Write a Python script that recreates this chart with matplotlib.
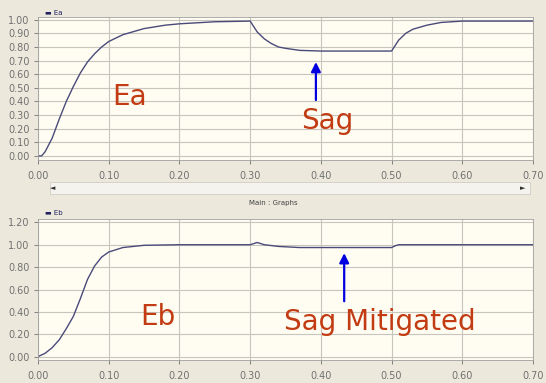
import matplotlib.pyplot as plt
from matplotlib.patches import Rectangle

# Ea: source voltage with sag (0.30 - 0.50 s)
t_a = [0.0, 0.005, 0.01, 0.02, 0.03, 0.04, 0.05, 0.06, 0.07, 0.08, 0.09, 0.10, 0.12,
       0.15, 0.18, 0.20, 0.25, 0.30, 0.305, 0.31, 0.32, 0.33, 0.34, 0.35, 0.37, 0.40,
       0.45, 0.50, 0.505, 0.51, 0.52, 0.53, 0.55, 0.57, 0.60, 0.65, 0.70]
ea = [0.0, 0.0, 0.03, 0.13, 0.27, 0.40, 0.51, 0.61, 0.69, 0.75, 0.80, 0.84, 0.89,
      0.935, 0.96, 0.97, 0.985, 0.99, 0.95, 0.91, 0.86, 0.825, 0.80, 0.79, 0.775, 0.77,
      0.77, 0.77, 0.81, 0.85, 0.90, 0.93, 0.96, 0.98, 0.99, 0.99, 0.99]

# Eb: load voltage with sag mitigated
t_b = [0.0, 0.01, 0.02, 0.03, 0.04, 0.05, 0.06, 0.07, 0.08, 0.09, 0.10, 0.12, 0.15,
       0.20, 0.30, 0.305, 0.31, 0.32, 0.34, 0.37, 0.40, 0.45, 0.50, 0.505, 0.51, 0.55,
       0.60, 0.70]
eb = [0.0, 0.03, 0.08, 0.15, 0.25, 0.36, 0.52, 0.69, 0.81, 0.89, 0.935, 0.975, 0.995,
      1.0, 1.0, 1.01, 1.02, 1.0, 0.985, 0.975, 0.975, 0.975, 0.975, 0.99, 1.0, 1.0,
      1.0, 1.0]

W, H = 546, 383
BG = '#ECE9DC'
PLOT_BG = '#FFFDF2'
GRID = '#C8C6BC'
LINE = '#4A4A7A'
TXT = '#C23B12'
TICK = '#707070'

fig = plt.figure(figsize=(W / 100, H / 100), dpi=100, facecolor=BG)


def box(x0, y0, x1, y1):
    return [x0 / W, 1 - y1 / H, (x1 - x0) / W, (y1 - y0) / H]


def setup(ax, yticks, ylim):
    ax.set_facecolor(PLOT_BG)
    ax.set_xlim(0, 0.70)
    ax.set_ylim(*ylim)
    ax.set_xticks([i / 10 for i in range(8)])
    ax.set_xticklabels([f'{i / 10:.2f}' for i in range(8)])
    ax.set_yticks(yticks)
    ax.set_yticklabels([f'{v:.2f}' for v in yticks])
    ax.grid(True, color=GRID, linewidth=0.8)
    ax.tick_params(colors=TICK, labelsize=7, length=3, width=0.6, pad=3)
    ax.tick_params(axis='x', pad=5)
    for s in ax.spines.values():
        s.set_color('#A0A0A0')
        s.set_linewidth(0.6)


# top panel
ax1 = fig.add_axes(box(38, 17, 533, 160))
setup(ax1, [i / 10 for i in range(11)], (-0.03, 1.02))
ax1.plot(t_a, ea, color=LINE, linewidth=1.0)
ax1.text(0.105, 0.43, 'Ea', color=TXT, fontsize=20, va='center')
ax1.text(0.372, 0.26, 'Sag', color=TXT, fontsize=20, va='center')
ax1.annotate('', xy=(0.393, 0.71), xytext=(0.393, 0.39),
             arrowprops=dict(arrowstyle='-|>', color='#0000E0', lw=1.6, mutation_scale=14))
fig.text(45 / W, 1 - 13 / H, '▬ Ea', fontsize=5, color='#202060', va='center')

# bottom panel
ax2 = fig.add_axes(box(38, 219, 533, 360))
setup(ax2, [i / 5 for i in range(7)], (-0.03, 1.23))
ax2.plot(t_b, eb, color=LINE, linewidth=1.0)
ax2.text(0.145, 0.35, 'Eb', color=TXT, fontsize=20, va='center')
ax2.text(0.348, 0.31, 'Sag Mitigated', color=TXT, fontsize=20, va='center')
ax2.annotate('', xy=(0.433, 0.95), xytext=(0.433, 0.47),
             arrowprops=dict(arrowstyle='-|>', color='#0000E0', lw=1.6, mutation_scale=14))
fig.text(45 / W, 1 - 213 / H, '▬ Eb', fontsize=5, color='#202060', va='center')

# scrollbar and caption strip between panels
fig.patches.append(Rectangle((50 / W, 1 - 194 / H), 480 / W, 12 / H,
                             transform=fig.transFigure, facecolor='#F4F3EE',
                             edgecolor='#D0CEC4', linewidth=0.6))
fig.text(50 / W, 1 - 188 / H, '◄', fontsize=5, color='#303030', va='center')
fig.text(520 / W, 1 - 188 / H, '►', fontsize=5, color='#303030', va='center')
fig.text(273 / W, 1 - 203 / H, 'Main : Graphs', fontsize=5, color='#404040',
         ha='center', va='center')

fig.savefig('out.png', dpi=100, facecolor=BG)
